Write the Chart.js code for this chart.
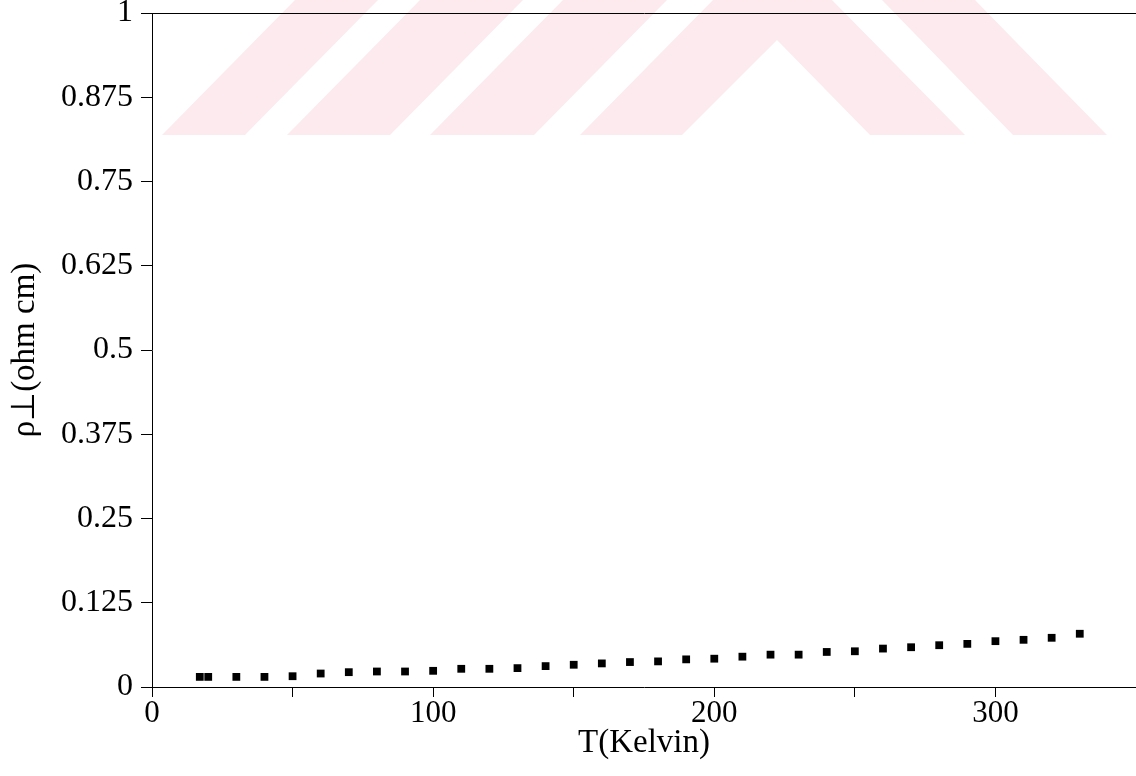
<!DOCTYPE html>
<html><head><meta charset="utf-8">
<script src="https://cdn.jsdelivr.net/npm/chart.js@4.4.1/dist/chart.umd.min.js"></script>
<style>
html,body{margin:0;padding:0;background:#fff;}
#wrap{position:relative;width:1136px;height:776px;overflow:hidden;}
#wm{position:absolute;left:0;top:0;}
#c{position:absolute;left:0;top:0;}
</style></head><body>
<div id="wrap">
<svg id="wm" width="1136" height="776" xmlns="http://www.w3.org/2000/svg">
  <g fill="rgb(252,234,238)">
    <polygon points="162,135 245,135 378,0 295,0"/>
    <polygon points="287,135 390,135 523,0 420,0"/>
    <polygon points="430,135 534,135 667,0 563,0"/>
    <polygon points="580,135 682,135 777,40 870,135 965,135 832,0 713,0"/>
    <polygon points="1013,135 1107,135 975,0 882,0"/>
  </g>
</svg>
<canvas id="c" width="1136" height="776"></canvas>
</div>
<script>
const temperatures = [17, 20, 30, 40, 50, 60, 70, 80, 90, 100, 110, 120, 130, 140, 150, 160, 170, 180, 190, 200, 210, 220, 230, 240, 250, 260, 270, 280, 290, 300, 310, 320, 330];
const resistivity = [0.015, 0.015, 0.015, 0.015, 0.016, 0.020, 0.022, 0.023, 0.023, 0.024, 0.027, 0.027, 0.028, 0.031, 0.033, 0.035, 0.037, 0.038, 0.041, 0.042, 0.045, 0.048, 0.048, 0.052, 0.053, 0.057, 0.059, 0.062, 0.064, 0.068, 0.070, 0.073, 0.079];
const xTickValues = [0, 50, 100, 150, 200, 250, 300];
const xTickLabels = ['0', '', '100', '', '200', '', '300'];
const yTickValues = [0, 0.125, 0.25, 0.375, 0.5, 0.625, 0.75, 0.875, 1];
const yTickLabels = ['0', '0.125', '0.25', '0.375', '0.5', '0.625', '0.75', '0.875', '1'];
const xTitle = 'T(Kelvin)';
const yTitle = 'ρ\u22A5(ohm cm)';

const serif = 'Liberation Serif';
const tickFont = {family: serif, size: 31};
const titleFont = {family: serif, size: 33};

function noPad(s) { s.paddingTop = 0; s.paddingBottom = 0; s.paddingLeft = 0; s.paddingRight = 0; }

new Chart(document.getElementById('c'), {
  type: 'scatter',
  data: {
    datasets: [{
      data: temperatures.map((t, i) => ({x: t, y: resistivity[i]})),
      pointStyle: 'rect',
      pointRadius: 5.5,
      pointHoverRadius: 5.5,
      backgroundColor: '#000',
      borderColor: '#000',
      borderWidth: 0,
      showLine: false
    }]
  },
  options: {
    responsive: false,
    animation: false,
    devicePixelRatio: 1,
    layout: {autoPadding: false, padding: {top: 13, right: 0, left: 0, bottom: 0}},
    plugins: {legend: {display: false}, tooltip: {enabled: false}},
    scales: {
      x: {
        type: 'linear', position: 'bottom', min: 0, max: 350,
        afterBuildTicks: s => { s.ticks = xTickValues.map(v => ({value: v})); },
        afterFit: s => { s.height = 89; noPad(s); },
        ticks: {
          autoSkip: false, maxRotation: 0, color: '#000', font: tickFont, padding: -2,
          callback: v => { const i = xTickValues.indexOf(v); return i >= 0 ? xTickLabels[i] : ''; }
        },
        grid: {display: true, drawOnChartArea: false, drawTicks: true, tickLength: 10, color: '#000', lineWidth: 1},
        border: {display: true, color: '#000', width: 1},
        title: {display: true, text: xTitle, color: '#000', font: titleFont, padding: {top: 0, bottom: 13}}
      },
      x2: {
        type: 'linear', position: 'top', min: 0, max: 350,
        afterFit: s => { s.height = 0; noPad(s); },
        ticks: {display: false},
        grid: {display: false, drawOnChartArea: false, drawTicks: false},
        border: {display: true, color: '#000', width: 1}
      },
      y: {
        type: 'linear', position: 'left', min: 0, max: 1,
        afterBuildTicks: s => { s.ticks = yTickValues.map(v => ({value: v})); },
        afterFit: s => { s.width = 152; noPad(s); },
        ticks: {
          autoSkip: false, color: '#000', font: {family: serif, size: 32}, padding: 8,
          callback: v => { const i = yTickValues.indexOf(v); return i >= 0 ? yTickLabels[i] : ''; }
        },
        grid: {display: true, drawOnChartArea: false, drawTicks: true, tickLength: 11, color: '#000', lineWidth: 1},
        border: {display: true, color: '#000', width: 1},
        title: {display: true, text: yTitle, color: '#000', font: titleFont, padding: {top: 6, bottom: 0}}
      }
    }
  }
});
</script>
</body></html>
